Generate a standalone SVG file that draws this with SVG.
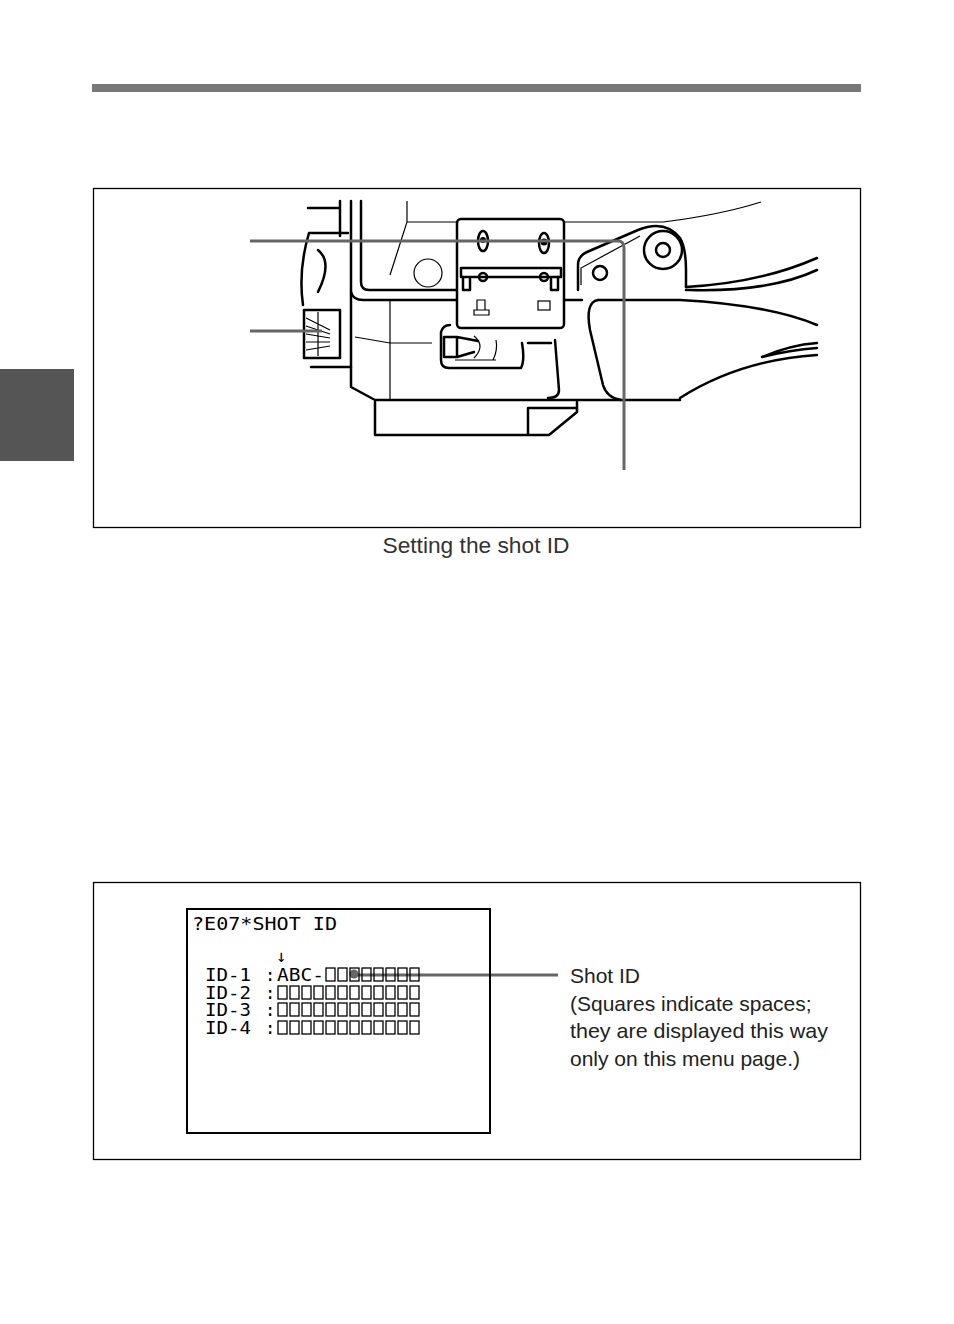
<svg xmlns="http://www.w3.org/2000/svg" width="954" height="1324" viewBox="0 0 954 1324">
<style>
.o{fill:none;stroke:#000;stroke-width:2.5;stroke-linejoin:round;stroke-linecap:round}
.t{fill:none;stroke:#000;stroke-width:1.2}
.ld{fill:none;stroke:#666;stroke-width:3}
.sq{fill:none;stroke:#000;stroke-width:1.3}
.m{font-family:"DejaVu Sans Mono",monospace;font-size:17px;fill:#000}
.lb{font-family:"Liberation Sans",Arial,sans-serif;font-size:21px;fill:#222}
</style>
<rect width="954" height="1324" fill="#fff"/>
<rect x="92" y="84" width="769" height="8" fill="#777"/>
<rect x="0" y="369" width="74" height="92" fill="#555"/>
<rect x="93.5" y="188.5" width="767" height="339" fill="none" stroke="#000" stroke-width="1.3"/>
<rect x="93.5" y="882.5" width="767" height="277" fill="none" stroke="#000" stroke-width="1.3"/>
<text x="476" y="553" text-anchor="middle" class="lb" style="font-size:22px;fill:#333" textLength="187" lengthAdjust="spacingAndGlyphs">Setting the shot ID</text>
<g id="camera">
<path class="o" d="M308 208 H340 M340 201 V236"/>
<path class="o" d="M309 233 H348 M309 233 Q298 270 303 305 M311 367 H351"/>
<path class="o" d="M318 250 Q333 262 318 292"/>
<path class="o" d="M304 310 H340 V358 H304 Z"/>
<path class="t" d="M306 318 L330 330 M306 326 L330 334 M306 334 L330 338 M306 342 L330 342 M306 350 L330 346 M318 312 V356"/>
<path class="o" d="M351 201 V387 L375 400 H680"/>
<path class="o" d="M361 201 V282 Q361 290 369 290 H456"/>
<path class="o" d="M351 292 Q353 300 363 300 H456"/>
<path class="t" d="M390 300 V400 M355 337 L390 343 H432"/>
<path class="t" d="M407 201 V222 L390 275 M407 222 H456"/>
<circle class="t" cx="428" cy="273" r="14"/>
<path class="t" d="M565 222 H663 Q720 215 761 202"/>
<rect class="o" x="457" y="219" width="107" height="109" rx="4"/>
<ellipse class="o" cx="483" cy="241" rx="5" ry="10"/>
<ellipse class="o" cx="544" cy="243" rx="5" ry="10"/>
<circle cx="483" cy="240" r="3"/><circle cx="544" cy="242" r="3.5"/>
<path class="o" d="M461 268 H561 V277 H461 Z"/>
<circle class="o" cx="483" cy="277" r="4" fill="#fff"/>
<circle class="o" cx="544" cy="277" r="4" fill="#fff"/>
<path class="o" d="M463 277 V290 H470 V279 M558 277 V290 H551 V279"/>
<path class="t" d="M477 310 V300 H485 V310 M474 310 H489 V315 H474 Z"/>
<rect class="t" x="538" y="301" width="12" height="9"/>
<path class="o" d="M450 325 Q443 325 441 332 V360 Q441 368 449 368 H521 Q525 360 522 343"/>
<path class="o" d="M444 337 H457 V357 H444 Z M457 337 L478 341 M457 357 L474 352"/>
<path class="t" d="M474 336 Q486 346 474 358 M455 360 H496 M496 340 Q498 350 493 360"/>
<path class="o" d="M528 343 H551 M555 340 L559 390 Q559 398 548 398"/>
<path class="o" d="M375 402 V435 H549 L577 412 V402 M528 435 V408 H577"/>
<path class="o" d="M565 300 H582"/>
<path class="o" d="M578 290 V265 Q578 256 587 252 L638 230 Q665 219 680 238 Q686 248 686 270 V287"/>
<path class="t" d="M581 285 V268 L640 236"/>
<circle class="o" cx="663" cy="250" r="19"/>
<circle class="o" cx="663" cy="250" r="7"/>
<circle class="o" cx="600" cy="273" r="7"/>
<path class="o" d="M686 287 Q760 283 817 258 M686 290 H690 Q770 292 817 270"/>
<path class="o" d="M598 300 H680 Q770 305 817 325"/>
<path class="o" d="M598 300 Q585 302 590 330 L603 385 Q607 398 621 400"/>
<path class="o" d="M680 398 Q740 360 817 355 M762 357 Q790 345 817 343 M762 357 Q790 350 817 348"/>
</g>
<g id="connectors">
<path class="ld" d="M250 241 H618 Q624 241 624 248 V470"/>
<path class="ld" d="M250 331 H322"/>
<circle cx="354" cy="974" r="4.5" fill="#666"/>
<path class="ld" d="M354 975 H558"/>
</g>
<g id="menu">
<rect x="187" y="909" width="303" height="224" fill="none" stroke="#000" stroke-width="2"/>
<text class="m" x="192" y="930" textLength="145" lengthAdjust="spacingAndGlyphs">?E07*SHOT ID</text>
<text class="m" x="276" y="962" font-size="16">↓</text>
<text class="m" x="205" y="981" textLength="46" lengthAdjust="spacingAndGlyphs">ID-1</text>
<text class="m" x="205" y="999" textLength="46" lengthAdjust="spacingAndGlyphs">ID-2</text>
<text class="m" x="205" y="1016" textLength="46" lengthAdjust="spacingAndGlyphs">ID-3</text>
<text class="m" x="205" y="1034" textLength="46" lengthAdjust="spacingAndGlyphs">ID-4</text>
<text class="m" x="265" y="981">:</text>
<text class="m" x="265" y="999">:</text>
<text class="m" x="265" y="1016">:</text>
<text class="m" x="265" y="1034">:</text>
<text class="m" x="277" y="981" textLength="47" lengthAdjust="spacingAndGlyphs">ABC-</text>
<g class="sq">
<rect x="326" y="968" width="9" height="13"/><rect x="338" y="968" width="9" height="13"/><rect x="350" y="968" width="9" height="13"/><rect x="362" y="968" width="9" height="13"/><rect x="374" y="968" width="9" height="13"/><rect x="386" y="968" width="9" height="13"/><rect x="398" y="968" width="9" height="13"/><rect x="410" y="968" width="9" height="13"/>
</g>
<g class="sq">
<rect x="278" y="986" width="9" height="13"/><rect x="290" y="986" width="9" height="13"/><rect x="302" y="986" width="9" height="13"/><rect x="314" y="986" width="9" height="13"/><rect x="326" y="986" width="9" height="13"/><rect x="338" y="986" width="9" height="13"/><rect x="350" y="986" width="9" height="13"/><rect x="362" y="986" width="9" height="13"/><rect x="374" y="986" width="9" height="13"/><rect x="386" y="986" width="9" height="13"/><rect x="398" y="986" width="9" height="13"/><rect x="410" y="986" width="9" height="13"/>
</g>
<g class="sq" transform="translate(0,17)">
<rect x="278" y="986" width="9" height="13"/><rect x="290" y="986" width="9" height="13"/><rect x="302" y="986" width="9" height="13"/><rect x="314" y="986" width="9" height="13"/><rect x="326" y="986" width="9" height="13"/><rect x="338" y="986" width="9" height="13"/><rect x="350" y="986" width="9" height="13"/><rect x="362" y="986" width="9" height="13"/><rect x="374" y="986" width="9" height="13"/><rect x="386" y="986" width="9" height="13"/><rect x="398" y="986" width="9" height="13"/><rect x="410" y="986" width="9" height="13"/>
</g>
<g class="sq" transform="translate(0,35)">
<rect x="278" y="986" width="9" height="13"/><rect x="290" y="986" width="9" height="13"/><rect x="302" y="986" width="9" height="13"/><rect x="314" y="986" width="9" height="13"/><rect x="326" y="986" width="9" height="13"/><rect x="338" y="986" width="9" height="13"/><rect x="350" y="986" width="9" height="13"/><rect x="362" y="986" width="9" height="13"/><rect x="374" y="986" width="9" height="13"/><rect x="386" y="986" width="9" height="13"/><rect x="398" y="986" width="9" height="13"/><rect x="410" y="986" width="9" height="13"/>
</g>
</g>
<g id="label">
<text class="lb" x="570" y="983">Shot ID</text>
<text class="lb" x="570" y="1011">(Squares indicate spaces;</text>
<text class="lb" x="570" y="1038" textLength="258" lengthAdjust="spacingAndGlyphs">they are displayed this way</text>
<text class="lb" x="570" y="1066">only on this menu page.)</text>
</g>
</svg>
